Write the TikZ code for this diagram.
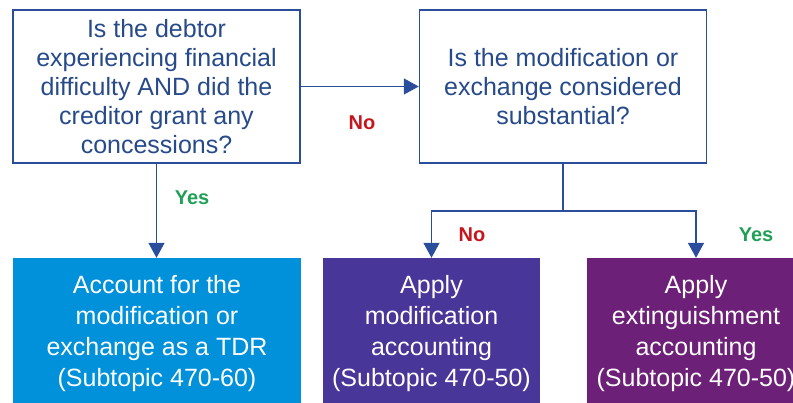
\documentclass[tikz,border=0pt]{standalone}
\usepackage{fontspec}
\setmainfont{Liberation Sans}
\definecolor{kblue}{HTML}{0091DA}
\definecolor{kpurple}{HTML}{483698}
\definecolor{kplum}{HTML}{6D2077}
\definecolor{knavy}{HTML}{2A4E9B}
\definecolor{ktext}{HTML}{274A8A}
\definecolor{kred}{HTML}{C4161C}
\definecolor{kgreen}{HTML}{1FA055}
\usetikzlibrary{positioning, arrows.meta}
\tikzset{
	questionnode/.style={
			draw=knavy,
			line width=1.5pt,
			fill=white,
			text=ktext,
			align=center,
			inner sep=0pt,
			minimum width=287pt,
			minimum height=153pt,
			font=\fontsize{25}{29}\selectfont
		},
	resultnode/.style={
			draw=none,
			text=white,
			align=center,
			inner sep=0pt,
			minimum height=152pt,
			font=\fontsize{25}{31}\selectfont
		},
	answernode/.style={
			font=\fontsize{20}{20}\selectfont\bfseries,
			inner sep=0pt
		},
	flowline/.style={
			draw=knavy,
			line width=1.5pt
		},
	flowarrow/.style={
			flowline,
			-{Triangle[width=16pt, length=15pt]}
		}
}

\begin{document}
\begin{tikzpicture}[x=1pt, y=-1pt]
\clip (0,0) rectangle (793,402);
\node[questionnode] (debtor) at (156.5,86.5) {Is the debtor\\experiencing financial\\difficulty AND did the\\creditor grant any\\concessions?};
\node[questionnode] (substantial) at (563,86.5) {Is the modification or\\exchange considered\\substantial?};

\node[resultnode, fill=kblue, minimum width=288pt] (tdr) at (157,334) {Account for the\\modification or\\exchange as a TDR\\(Subtopic 470-60)};
\node[resultnode, fill=kpurple, minimum width=217pt] (modif) at (431.5,334) {Apply\\modification\\accounting\\(Subtopic 470-50)};
\node[resultnode, fill=kplum, minimum width=218pt] (extin) at (696,334) {Apply\\extinguishment\\accounting\\(Subtopic 470-50)};

\coordinate (split) at (563,211);

\draw[flowarrow] (debtor) -- (substantial);
\draw[flowarrow] (debtor.south) -- (debtor.south |- tdr.north);
\draw[flowline] (substantial.south) -- (split);
\draw[flowarrow] (split) -| (modif.north);
\draw[flowarrow] (split) -| (extin.north);

\node[answernode, text=kred] (no1) at (362,123) {No};
\node[answernode, text=kgreen] (yes1) at (192,198) {Yes};
\node[answernode, text=kred] (no2) at (472,235) {No};
\node[answernode, text=kgreen] (yes2) at (756,235) {Yes};
\end{tikzpicture}
\end{document}
